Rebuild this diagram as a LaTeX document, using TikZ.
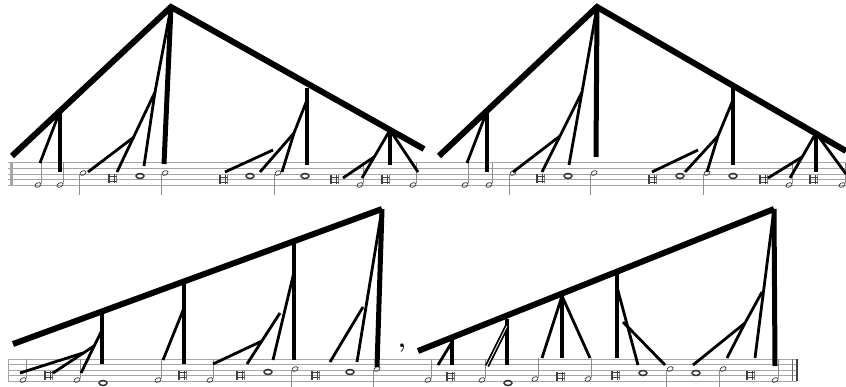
\documentclass[tikz,border=0pt]{standalone}
\usetikzlibrary{shapes.geometric}

\begin{document}
\begin{tikzpicture}[x=1pt,y=-1pt,
    main/.style={line width=6pt},
    trunk/.style={line width=5pt},
    mid/.style={line width=3.5pt},
    twig/.style={line width=2.8pt},
    staffline/.style={black!35,line width=0.8pt},
    stem/.style={black!45,line width=0.8pt},
    half/.style={ellipse,draw=black!80,line width=0.7pt,minimum width=6.5pt,
      minimum height=4.2pt,inner sep=0pt,rotate=25},
    whole/.style={ellipse,draw=black!80,line width=1.5pt,minimum width=8pt,
      minimum height=5pt,inner sep=0pt},
    brev/.style={rectangle,inner sep=0pt,minimum width=9pt,minimum height=9pt,
      path picture={
        \draw[black!75,line width=0.6pt]
          ([xshift=0.4pt]path picture bounding box.south west) -- ([xshift=0.4pt]path picture bounding box.north west)
          ([xshift=1.8pt]path picture bounding box.south west) -- ([xshift=1.8pt]path picture bounding box.north west)
          ([xshift=-0.4pt]path picture bounding box.south east) -- ([xshift=-0.4pt]path picture bounding box.north east)
          ([xshift=-1.8pt]path picture bounding box.south east) -- ([xshift=-1.8pt]path picture bounding box.north east);
        \draw[black!75,line width=1.2pt]
          ([yshift=-2.3pt]path picture bounding box.north west) -- ([yshift=-2.3pt]path picture bounding box.north east)
          ([yshift=2.3pt]path picture bounding box.south west) -- ([yshift=2.3pt]path picture bounding box.south east);
      }}]
  \useasboundingbox (0,0) rectangle (846,387);

  % staves
  \foreach \y in {162.5,168.25,174,179.75,185.5}
    \draw[staffline] (8,\y) -- (846,\y);
  \foreach \y in {359,364.5,370,375.5,381}
    \draw[staffline] (8,\y) -- (797,\y);
  \draw[black!35,line width=3pt] (11,162.5) -- (11,185.5);
  \draw[black!35,line width=0.8pt] (8,359) -- (8,381);
  \draw[black!60,line width=0.8pt] (792,359) -- (792,381);
  \draw[black!75,line width=2.5pt] (797,359) -- (797,381);

  % notes, upper system
  \node[half]  (t1)  at (38,185)  {};
  \node[half]  (t2)  at (60,185)  {};
  \node[half]  (t3)  at (83,173)  {};
  \node[brev]  (t4)  at (112,179) {};
  \node[whole] (t5)  at (140,176) {};
  \node[half]  (t6)  at (165,173) {};
  \node[brev]  (t7)  at (223,180) {};
  \node[whole] (t8)  at (250,176) {};
  \node[half]  (t9)  at (278,173) {};
  \node[whole] (t10) at (305,176) {};
  \node[brev]  (t11) at (334,180) {};
  \node[half]  (t12) at (360,185) {};
  \node[brev]  (t13) at (385,180) {};
  \node[half]  (t14) at (413,185) {};
  \node[half]  (u1)  at (465,185) {};
  \node[half]  (u2)  at (489,185) {};
  \node[half]  (u3)  at (513,173) {};
  \node[brev]  (u4)  at (540,179) {};
  \node[whole] (u5)  at (568,176) {};
  \node[half]  (u6)  at (594,173) {};
  \node[brev]  (u7)  at (652,180) {};
  \node[whole] (u8)  at (680,176) {};
  \node[half]  (u9)  at (707,173) {};
  \node[whole] (u10) at (733,176) {};
  \node[brev]  (u11) at (763,180) {};
  \node[half]  (u12) at (789,185) {};
  \node[brev]  (u13) at (813,180) {};
  \node[half]  (u14) at (842,185) {};
  \foreach \n in {t1,t2,t12,t14,u1,u2,u12,u14}
    \draw[stem] (\n.east) -- ++(0,-21);
  \foreach \n in {t3,t6,t9,u3,u6,u9}
    \draw[stem] (\n.west) -- ++(0,20);

  % notes, lower system
  \node[half]  (v1)  at (23,380)  {};
  \node[brev]  (v2)  at (48,375)  {};
  \node[half]  (v3)  at (77,380)  {};
  \node[whole] (v4)  at (103,383) {};
  \node[half]  (v5)  at (158,380) {};
  \node[brev]  (v6)  at (182,375) {};
  \node[half]  (v7)  at (210,380) {};
  \node[brev]  (v8)  at (240,375) {};
  \node[whole] (v9)  at (268,372) {};
  \node[half]  (v10) at (295,369) {};
  \node[brev]  (v11) at (315,375) {};
  \node[whole] (v12) at (350,372) {};
  \node[half]  (v13) at (377,369) {};
  \node[font=\bfseries\Huge,inner sep=0pt] (brk) at (402,348) {,};
  \node[half]  (w1)  at (428,380) {};
  \node[brev]  (w2)  at (450,376) {};
  \node[half]  (w3)  at (482,380) {};
  \node[whole] (w4)  at (508,383) {};
  \node[half]  (w5)  at (535,379) {};
  \node[brev]  (w6)  at (560,376) {};
  \node[half]  (w7)  at (588,379) {};
  \node[brev]  (w8)  at (615,375) {};
  \node[whole] (w9)  at (643,373) {};
  \node[half]  (w10) at (670,369) {};
  \node[whole] (w11) at (696,373) {};
  \node[half]  (w12) at (723,369) {};
  \node[brev]  (w13) at (750,375) {};
  \node[half]  (w14) at (775,380) {};
  \foreach \n in {v1,v3,v5,v7,w1,w3,w5,w7,w14}
    \draw[stem] (\n.east) -- ++(0,-19);
  \foreach \n in {v10,v13,w10,w12}
    \draw[stem] (\n.west) -- ++(0,19);

  % tree 1
  \coordinate (a1) at (171,7);   \coordinate (a1l) at (12,156);
  \coordinate (a1r) at (424,149); \coordinate (a1t) at (164,164);
  \coordinate (c1) at (60,111);  \coordinate (c1v) at (60,172);
  \coordinate (c1d) at (40,163);
  \coordinate (p1) at (155,92);  \coordinate (p1d) at (144,166);
  \coordinate (q1) at (134,137); \coordinate (q1a) at (88,172);
  \coordinate (q1b) at (117,172);
  \coordinate (d1) at (307,88);  \coordinate (d1v) at (307,165);
  \coordinate (d1s) at (307,100); \coordinate (r1) at (294,133);
  \coordinate (r1a) at (260,172); \coordinate (r1b) at (282,172);
  \coordinate (f1a) at (225,172); \coordinate (f1b) at (273,150);
  \coordinate (e1) at (390,130); \coordinate (e1v) at (390,165);
  \coordinate (e1r) at (418,172); \coordinate (s1) at (374,157);
  \coordinate (s1a) at (343,178); \coordinate (s1b) at (362,178);
  \draw[main] (a1l) -- (a1) -- (a1r);
  \draw[trunk] (a1) -- (a1t);
  \draw[mid] (c1) -- (c1v); \draw[twig] (c1) -- (c1d);
  \draw[twig] (a1) -- (p1) -- (q1b); \draw[twig] (p1) -- (p1d);
  \draw[twig] (q1) -- (q1a);
  \draw[mid] (d1) -- (d1v);
  \draw[twig] (d1s) -- (r1) -- (r1b); \draw[twig] (r1) -- (r1a);
  \draw[twig] (f1a) -- (f1b);
  \draw[mid] (e1) -- (e1v); \draw[twig] (e1) -- (e1r);
  \draw[twig] (e1) -- (s1b); \draw[twig] (s1) -- (s1a);

  % tree 2
  \coordinate (a2) at (597,7);   \coordinate (a2l) at (439,156);
  \coordinate (a2r) at (846,151); \coordinate (a2t) at (596,157);
  \coordinate (c2) at (487,111); \coordinate (c2v) at (487,172);
  \coordinate (c2d) at (467,163);
  \coordinate (p2) at (582,92);  \coordinate (p2d) at (569,165);
  \coordinate (q2) at (560,136); \coordinate (q2a) at (513,172);
  \coordinate (q2b) at (542,172);
  \coordinate (d2) at (733,88);  \coordinate (d2v) at (733,165);
  \coordinate (d2s) at (733,100); \coordinate (r2) at (718,136);
  \coordinate (r2a) at (685,172); \coordinate (r2b) at (707,172);
  \coordinate (f2a) at (652,172); \coordinate (f2b) at (698,150);
  \coordinate (e2) at (816,133); \coordinate (e2v) at (816,172);
  \coordinate (e2r) at (846,174); \coordinate (s2) at (802,157);
  \coordinate (s2a) at (768,178); \coordinate (s2b) at (790,178);
  \draw[main] (a2l) -- (a2) -- (a2r);
  \draw[trunk] (a2) -- (a2t);
  \draw[mid] (c2) -- (c2v); \draw[twig] (c2) -- (c2d);
  \draw[twig] (a2) -- (p2) -- (q2b); \draw[twig] (p2) -- (p2d);
  \draw[twig] (q2) -- (q2a);
  \draw[mid] (d2) -- (d2v);
  \draw[twig] (d2s) -- (r2) -- (r2b); \draw[twig] (r2) -- (r2a);
  \draw[twig] (f2a) -- (f2b);
  \draw[mid] (e2) -- (e2v); \draw[twig] (e2) -- (e2r);
  \draw[twig] (e2) -- (s2b); \draw[twig] (s2) -- (s2a);

  % tree 3
  \coordinate (a3) at (382,209); \coordinate (a3l) at (13,344);
  \coordinate (a3t) at (377,367); \coordinate (a3s) at (357,362);
  \coordinate (f3a) at (330,362); \coordinate (f3b) at (363,307);
  \coordinate (d3) at (294,243); \coordinate (d3v) at (294,360);
  \coordinate (d3s) at (294,272); \coordinate (d3a) at (273,360);
  \coordinate (g3) at (280,313); \coordinate (g3a) at (247,364);
  \coordinate (g3m) at (262,341); \coordinate (g3b) at (213,364);
  \coordinate (c3) at (184,283); \coordinate (c3v) at (184,364);
  \coordinate (c3s) at (184,308); \coordinate (c3a) at (163,360);
  \coordinate (b3) at (102,312); \coordinate (b3v) at (102,364);
  \coordinate (b3s) at (102,330); \coordinate (b3a) at (81,373);
  \coordinate (h3) at (94,346);  \coordinate (h3a) at (53,373);
  \coordinate (h3m) at (83,353); \coordinate (h3b) at (20,373);
  \draw[main] (a3l) -- (a3);
  \draw[trunk] (a3) -- (a3t);
  \draw[twig] (a3) -- (a3s); \draw[twig] (f3a) -- (f3b);
  \draw[mid] (d3) -- (d3v); \draw[twig] (d3s) -- (d3a);
  \draw[twig] (g3) -- (g3a); \draw[twig] (g3m) -- (g3b);
  \draw[mid] (c3) -- (c3v); \draw[twig] (c3s) -- (c3a);
  \draw[mid] (b3) -- (b3v); \draw[twig] (b3s) -- (b3a);
  \draw[twig] (h3) -- (h3a); \draw[twig] (h3m) -- (h3b);

  % tree 4
  \coordinate (a4) at (774,209); \coordinate (a4l) at (418,351);
  \coordinate (a4t) at (775,366); \coordinate (a4s) at (755,358);
  \coordinate (f4) at (762,292); \coordinate (g4) at (745,323);
  \coordinate (g4a) at (693,365); \coordinate (g4b) at (727,358);
  \coordinate (d4) at (617,274); \coordinate (d4v) at (617,358);
  \coordinate (d4s) at (617,287); \coordinate (d4a) at (638,365);
  \coordinate (k4a) at (623,322); \coordinate (k4b) at (665,365);
  \coordinate (c4) at (562,296); \coordinate (c4v) at (562,358);
  \coordinate (c4a) at (542,358); \coordinate (c4b) at (590,358);
  \coordinate (b4) at (507,319); \coordinate (b4v) at (507,365);
  \coordinate (b4s) at (507,326); \coordinate (b4a) at (487,366);
  \coordinate (e4) at (452,336); \coordinate (e4v) at (452,365);
  \coordinate (e4s) at (452,342); \coordinate (e4a) at (438,365);
  \draw[main] (a4l) -- (a4);
  \draw[trunk] (a4) -- (a4t);
  \draw[twig] (a4) -- (a4s);
  \draw[twig] (f4) -- (g4) -- (g4a); \draw[twig] (g4) -- (g4b);
  \draw[mid] (d4) -- (d4v); \draw[twig] (d4s) -- (d4a);
  \draw[twig] (k4a) -- (k4b);
  \draw[mid] (c4) -- (c4v); \draw[twig] (c4) -- (c4a); \draw[twig] (c4) -- (c4b);
  \draw[mid] (b4) -- (b4v);
  \draw[line width=1.8pt,double,double distance=0.8pt] (b4s) -- (b4a);
  \draw[mid] (e4) -- (e4v); \draw[twig] (e4s) -- (e4a);
\end{tikzpicture}
\end{document}
